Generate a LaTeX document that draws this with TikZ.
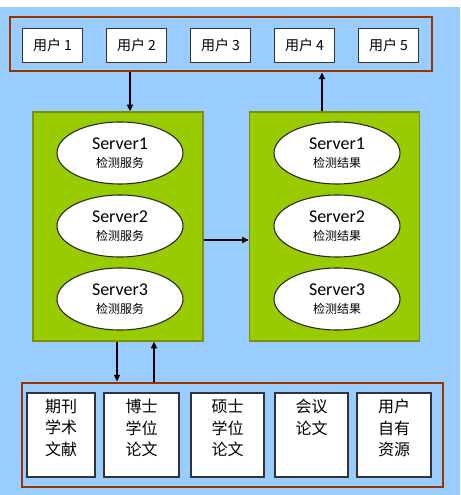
\documentclass[tikz,border=0pt]{standalone}
\usepackage{fontspec}
\setmainfont{Carlito}
\newfontfamily\cjk{Noto Sans CJK SC}
\usetikzlibrary{arrows.meta,shapes.geometric}
\definecolor{skyblue}{HTML}{99CCFF}
\definecolor{rust}{HTML}{993300}
\definecolor{leaf}{HTML}{99CC00}
\definecolor{leafedge}{HTML}{7F8F00}
\begin{document}
\begin{tikzpicture}[x=0.75pt, y=-0.75pt,
  >={Triangle[length=5pt,width=4.5pt]},
  groupframe/.style={draw=rust, line width=2.2pt},
  userbox/.style={draw=black!80, fill=white, line width=0.8pt, minimum width=45pt, minimum height=25.5pt, font={\cjk\fontsize{10.5pt}{12pt}\selectfont}},
  serverbox/.style={draw=leafedge, fill=leaf, line width=1.1pt, minimum width=127.5pt, minimum height=171.75pt},
  disc/.style={ellipse, draw=black!85, fill=white, line width=0.8pt, minimum width=94.5pt, minimum height=46.5pt, inner sep=0pt, align=center, font={\fontsize{13.5pt}{13pt}\selectfont}},
  srcbox/.style={draw=black!80, fill=white, line width=0.8pt, minimum height=63pt},
  srctext/.style={anchor=north, align=center, inner sep=0pt, font={\cjk\fontsize{12pt}{16pt}\selectfont}},
  link/.style={->, line width=1.1pt}]

\useasboundingbox (0,0) rectangle (460,495);
\fill[skyblue] (0,7) rectangle (460,495);

% users
\node[groupframe, minimum width=316.5pt, minimum height=40.5pt] (users) at (221,44) {};
\node[userbox] (u1) at (52.5,45.5) {用户 1};
\node[userbox] (u2) at (136.5,45.5) {用户 2};
\node[userbox] (u3) at (220.5,45.5) {用户 3};
\node[userbox] (u4) at (304.5,45.5) {用户 4};
\node[userbox] (u5) at (388.5,45.5) {用户 5};

% servers
\node[serverbox] (detect) at (118,226.5) {};
\node[serverbox] (result) at (334.5,226.5) {};

\node[disc] (d1) at (120,153) {Server1\\{\cjk\fontsize{9pt}{10pt}\selectfont 检测服务}};
\node[disc] (d2) at (120,226) {Server2\\{\cjk\fontsize{9pt}{10pt}\selectfont 检测服务}};
\node[disc] (d3) at (120,299) {Server3\\{\cjk\fontsize{9pt}{10pt}\selectfont 检测服务}};

\node[disc] (r1) at (337,153) {Server1\\{\cjk\fontsize{9pt}{10pt}\selectfont 检测结果}};
\node[disc] (r2) at (337,226) {Server2\\{\cjk\fontsize{9pt}{10pt}\selectfont 检测结果}};
\node[disc] (r3) at (337,299) {Server3\\{\cjk\fontsize{9pt}{10pt}\selectfont 检测结果}};

% sources
\node[groupframe, minimum width=315.75pt, minimum height=78pt] (sources) at (232.5,435) {};
\node[srcbox, minimum width=51pt] (s1) at (61,435) {};
\node[srcbox, minimum width=56.25pt] (s2) at (141.5,435) {};
\node[srcbox, minimum width=54.75pt] (s3) at (227.5,435) {};
\node[srcbox, minimum width=54.75pt] (s4) at (311.5,435) {};
\node[srcbox, minimum width=55.5pt] (s5) at (394,435) {};
\node[srctext] (t1) at ([yshift=-5pt]s1.north) {期刊\\学术\\文献};
\node[srctext] (t2) at ([yshift=-5pt]s2.north) {博士\\学位\\论文};
\node[srctext] (t3) at ([yshift=-5pt]s3.north) {硕士\\学位\\论文};
\node[srctext] (t4) at ([yshift=-5pt]s4.north) {会议\\论文};
\node[srctext] (t5) at ([yshift=-5pt]s5.north) {用户\\自有\\资源};

% arrows
\draw[link] (users.south -| 130,0) -- (detect.north -| 130,0);
\draw[link] (result.north -| 322,0) -- (users.south -| 322,0);
\draw[link] (detect.east |- 0,240) -- (result.west |- 0,240);
\draw[link] (detect.south -| 117,0) -- (sources.north -| 117,0);
\draw[link] (sources.north -| 154,0) -- (detect.south -| 154,0);

\end{tikzpicture}
\end{document}
